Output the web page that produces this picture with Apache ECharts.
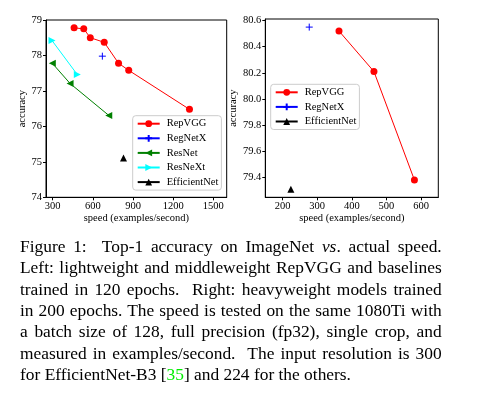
<!DOCTYPE html>
<html>
<head>
<meta charset="utf-8">
<script src="https://cdn.jsdelivr.net/npm/echarts@6/dist/echarts.min.js"></script>
<style>
html,body{margin:0;padding:0;background:#fff;}
#wrap{position:relative;width:492px;height:402px;overflow:hidden;}
#chart{position:absolute;left:0;top:0;width:492px;height:402px;}
#cap{position:absolute;left:20px;top:236px;width:421.7px;font-family:'Liberation Serif',serif;font-size:17.4px;line-height:21.35px;color:#000;}
#cap .j{text-align:justify;text-align-last:justify;}
#cap .g{color:#00ee00;}
</style>
</head>
<body>
<div id="wrap">
<div id="chart"></div>
<div id="cap">
<div class="j">Figure 1:&nbsp; Top-1 accuracy on ImageNet <i>vs</i>. actual speed.</div>
<div class="j">Left: lightweight and middleweight RepVGG and baselines</div>
<div class="j">trained in 120 epochs.&nbsp; Right: heavyweight models trained</div>
<div class="j">in 200 epochs. The speed is tested on the same 1080Ti with</div>
<div class="j">a batch size of 128, full precision (fp32), single crop, and</div>
<div class="j">measured in examples/second.&nbsp; The input resolution is 300</div>
<div>for EfficientNet-B3 [<span class="g">35</span>] and 224 for the others.</div>
</div>
</div>
<script>
// ---- data (left panel: 120 epochs) ----
const leftRepVGGSpeed = [460, 532, 581, 685, 792, 868, 1322];
const leftRepVGGAcc   = [78.78, 78.75, 78.50, 78.37, 77.78, 77.58, 76.48];
const leftRegNetXSpeed = [671];
const leftRegNetXAcc   = [77.98];
const leftResNetSpeed = [297, 430, 719];
const leftResNetAcc   = [77.78, 77.21, 76.31];
const leftResNeXtSpeed = [295, 484];
const leftResNeXtAcc   = [78.42, 77.46];
const leftEffSpeed = [829];
const leftEffAcc   = [75.11];
// ---- data (right panel: 200 epochs) ----
const rightRepVGGSpeed = [363, 464, 581];
const rightRepVGGAcc   = [80.52, 80.21, 79.38];
const rightRegNetXSpeed = [277];
const rightRegNetXAcc   = [80.55];
const rightEffSpeed = [224];
const rightEffAcc   = [79.31];
// ---- tick labels ----
const leftXTicks  = [300, 600, 900, 1200, 1500];
const leftYTicks  = [74, 75, 76, 77, 78, 79];
const rightXTicks = [200, 300, 400, 500, 600];
const rightYTicks = [79.4, 79.6, 79.8, 80.0, 80.2, 80.4, 80.6];
const legendLeft  = ['RepVGG', 'RegNetX', 'ResNet', 'ResNeXt', 'EfficientNet'];
const legendRight = ['RepVGG', 'RegNetX', 'EfficientNet'];

const FONT = 'Liberation Serif';
const pts = (xs, ys) => xs.map((x, i) => [x, ys[i]]);

const SYM = {
  RepVGG: {symbol: 'circle', color: '#ff0000', size: 7},
  RegNetX: {symbol: 'path://M5,0L5,10M0,5L10,5', color: '#0000ff', size: 7, border: 1},
  ResNet: {symbol: 'path://M0,5L10,0L10,10Z', color: '#008000', size: 7},
  ResNeXt: {symbol: 'path://M10,5L0,0L0,10Z', color: '#00ffff', size: 7},
  EfficientNet: {symbol: 'triangle', color: '#000000', size: 7}
};

function mk(name, xs, ys, gi) {
  const s = SYM[name];
  return {
    type: 'line', name: name, xAxisIndex: gi, yAxisIndex: gi,
    data: pts(xs, ys),
    symbol: s.symbol, symbolSize: s.size, showAllSymbol: true,
    lineStyle: {color: s.color, width: 1},
    itemStyle: {color: s.color, borderColor: s.color, borderWidth: s.border || 0},
    emphasis: {disabled: true},
    z: 3
  };
}

function xAx(gi, min, max, ticks) {
  return {
    type: 'value', gridIndex: gi, min: min, max: max,
    name: 'speed (examples/second)', nameLocation: 'middle', nameGap: 15.5,
    nameTextStyle: {fontFamily: FONT, fontSize: 10.5, color: '#000', lineHeight: 10},
    axisLine: {show: true, lineStyle: {color: '#000', width: 1}},
    axisTick: {show: true, inside: false, length: 3, customValues: ticks, lineStyle: {color: '#000', width: 1}},
    axisLabel: {customValues: ticks, interval: 0, hideOverlap: false, margin: 4, lineHeight: 10,
                fontFamily: FONT, fontSize: 10.5, color: '#000',
                formatter: v => String(Math.round(v))},
    splitLine: {show: false}
  };
}
function yAx(gi, min, max, ticks, gap, fmt) {
  return {
    type: 'value', gridIndex: gi, min: min, max: max,
    name: 'accuracy', nameLocation: 'middle', nameGap: gap,
    nameTextStyle: {fontFamily: FONT, fontSize: 10.5, color: '#000'},
    axisLine: {show: true, lineStyle: {color: '#000', width: 1}},
    axisTick: {show: true, inside: false, length: 3, customValues: ticks, lineStyle: {color: '#000', width: 1}},
    axisLabel: {customValues: ticks, interval: 0, margin: 4, fontFamily: FONT, fontSize: 10.5, color: '#000', formatter: fmt},
    splitLine: {show: false}
  };
}
function lg(left, top, data) {
  return {
    orient: 'vertical', left: left, top: top, data: data,
    itemWidth: 22, itemHeight: 8.5, itemGap: 2.6,
    padding: [2, 3, 2, 4],
    backgroundColor: 'rgba(255,255,255,0.8)', borderColor: '#cccccc', borderWidth: 1, borderRadius: 3,
    selectedMode: false,
    textStyle: {fontFamily: FONT, fontSize: 10.5, color: '#000', lineHeight: 12, padding: [0, 0, 0, 2]}
  };
}

const chart = echarts.init(document.getElementById('chart'), null, {renderer: 'canvas', width: 492, height: 402});
chart.setOption({
  animation: false,
  backgroundColor: '#fff',
  grid: [
    {left: 46, top: 20, width: 180.7, height: 177.3, show: true, borderColor: '#000', borderWidth: 1, backgroundColor: 'transparent'},
    {left: 265.3, top: 19, width: 173, height: 178.3, show: true, borderColor: '#000', borderWidth: 1, backgroundColor: 'transparent'}
  ],
  xAxis: [xAx(0, 250, 1600, leftXTicks), xAx(1, 150, 650, rightXTicks)],
  yAxis: [
    yAx(0, 74, 79, leftYTicks, 14.5, v => String(Math.round(v))),
    yAx(1, 79.248, 80.612, rightYTicks, 20, v => v.toFixed(1))
  ],
  legend: [lg(132.7, 115.7, legendLeft), lg(270.7, 84.3, legendRight)],
  series: [
    mk('RepVGG', leftRepVGGSpeed, leftRepVGGAcc, 0),
    mk('RegNetX', leftRegNetXSpeed, leftRegNetXAcc, 0),
    mk('ResNet', leftResNetSpeed, leftResNetAcc, 0),
    mk('ResNeXt', leftResNeXtSpeed, leftResNeXtAcc, 0),
    mk('EfficientNet', leftEffSpeed, leftEffAcc, 0),
    mk('RepVGG', rightRepVGGSpeed, rightRepVGGAcc, 1),
    mk('RegNetX', rightRegNetXSpeed, rightRegNetXAcc, 1),
    mk('EfficientNet', rightEffSpeed, rightEffAcc, 1)
  ]
});
</script>
</body>
</html>
